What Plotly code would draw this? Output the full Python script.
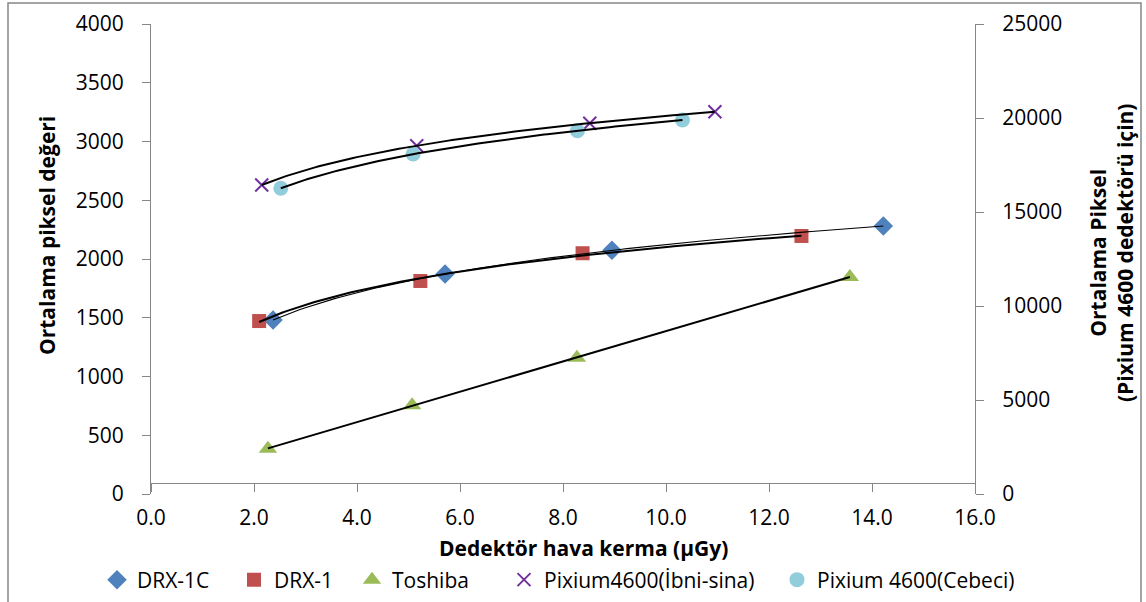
import numpy as np
import plotly.graph_objects as go

# ---- data ----
drx1c_x = [2.37, 5.71, 8.95, 14.22]
drx1c_y = [1481, 1872, 2074, 2281]

drx1_x = [2.10, 5.23, 8.38, 12.63]
drx1_y = [1472, 1813, 2049, 2196]

tosh_x = [2.27, 5.07, 8.27, 13.57]
tosh_y = [386, 755, 1160, 1847]

ibni_x = [2.15, 5.16, 8.52, 10.95]
ibni_y = [16436, 18527, 19718, 20335]

cebeci_x = [2.52, 5.09, 8.28, 10.32]
cebeci_y = [16260, 18085, 19324, 19893]

x_ticks = [0, 2, 4, 6, 8, 10, 12, 14, 16]

FONT = "Open Sans"
AXC = "#868686"

# plot-area geometry in pixels
W, H = 1146, 602
L, R, T, B = 151, 975, 24, 494
pw, ph = R - L, B - T


def px2paper_x(px):
    return (px - L) / pw


def px2paper_y(py):
    return (B - py) / ph


def log_fit(x, y):
    x = np.asarray(x, float)
    a, b = np.polyfit(np.log(x), np.asarray(y, float), 1)
    xs = np.linspace(x.min(), x.max(), 120)
    return xs, a * np.log(xs) + b


def lin_fit(x, y):
    x = np.asarray(x, float)
    a, b = np.polyfit(x, np.asarray(y, float), 1)
    xs = np.linspace(x.min(), x.max(), 2)
    return xs, a * xs + b


fig = go.Figure()

series = [
    ("DRX-1C", drx1c_x, drx1c_y, "y", dict(symbol="diamond", size=15, color="#4F81BD"), "legend"),
    ("DRX-1", drx1_x, drx1_y, "y", dict(symbol="square", size=14, color="#C0504D"), "legend2"),
    ("Toshiba", tosh_x, tosh_y, "y", dict(symbol="triangle-up", size=16, color="#9BBB59"), "legend3"),
    ("Pixium4600(İbni-sina)", ibni_x, ibni_y, "y2",
     dict(symbol="x-thin", size=13, color="#7030A0", line=dict(color="#7030A0", width=2)), "legend4"),
    ("Pixium 4600(Cebeci)", cebeci_x, cebeci_y, "y2", dict(symbol="circle", size=15, color="#92CDDC"), "legend5"),
]

for name, xs, ys, yax, mk, lg in series:
    fig.add_trace(go.Scatter(x=xs, y=ys, mode="markers", name=name, marker=mk,
                             yaxis=yax, legend=lg, cliponaxis=False))

# trendlines
tx, ty = log_fit(drx1c_x, drx1c_y)
fig.add_trace(go.Scatter(x=tx, y=ty, mode="lines", line=dict(color="black", width=1.1),
                         showlegend=False, hoverinfo="skip"))
tx, ty = log_fit(drx1_x, drx1_y)
fig.add_trace(go.Scatter(x=tx, y=ty, mode="lines", line=dict(color="black", width=2),
                         showlegend=False, hoverinfo="skip"))
tx, ty = lin_fit(tosh_x, tosh_y)
fig.add_trace(go.Scatter(x=tx, y=ty, mode="lines", line=dict(color="black", width=2),
                         showlegend=False, hoverinfo="skip"))
tx, ty = log_fit(ibni_x, ibni_y)
fig.add_trace(go.Scatter(x=tx, y=ty, mode="lines", line=dict(color="black", width=2),
                         showlegend=False, hoverinfo="skip", yaxis="y2"))
tx, ty = log_fit(cebeci_x, cebeci_y)
fig.add_trace(go.Scatter(x=tx, y=ty, mode="lines", line=dict(color="black", width=2),
                         showlegend=False, hoverinfo="skip", yaxis="y2"))

tickfont = dict(family=FONT, size=21, color="black")

fig.update_layout(
    width=W, height=H,
    margin=dict(l=L, r=W - R, t=T, b=H - B, pad=0, autoexpand=False),
    paper_bgcolor="white", plot_bgcolor="white",
    font=dict(family=FONT, size=21, color="black"),
    xaxis=dict(range=[0, 16], tickvals=x_ticks, tickformat=".1f", showgrid=False, zeroline=False,
               showline=True, linecolor=AXC, linewidth=1, ticks="outside", ticklen=8, tickcolor=AXC,
               tickfont=tickfont, anchor="free", position=px2paper_y(483), ticklabelstandoff=8,
               automargin=False),
    yaxis=dict(range=[0, 4000], dtick=500, showgrid=False, zeroline=False,
               showline=True, linecolor=AXC, linewidth=1, ticks="outside", ticklen=8, tickcolor=AXC,
               tickfont=tickfont, ticklabelstandoff=14, automargin=False),
    yaxis2=dict(range=[0, 25000], dtick=5000, tickformat="d", overlaying="y", side="right",
                showgrid=False, zeroline=False, showline=True, linecolor=AXC, linewidth=1,
                ticks="outside", ticklen=8, tickcolor=AXC, tickfont=tickfont, ticklabelstandoff=14,
                automargin=False),
)

# legends (one per series to reproduce spacing)
text_starts = [133, 270, 388, 540, 813]
for i, ts in enumerate(text_starts):
    key = "legend" if i == 0 else f"legend{i + 1}"
    fig.update_layout(**{key: dict(x=px2paper_x(ts - 36), y=px2paper_y(580), xanchor="left",
                                   yanchor="middle", orientation="h", bgcolor="rgba(0,0,0,0)",
                                   font=dict(family=FONT, size=21, color="black"),
                                   borderwidth=0, tracegroupgap=0)})

# axis titles
title_font = dict(family=FONT, size=21, color="black")
fig.add_annotation(text="<b>Ortalama piksel değeri</b>", xref="paper", yref="paper",
                   x=px2paper_x(47), y=px2paper_y(236), textangle=-90, showarrow=False,
                   xanchor="center", yanchor="middle", font=title_font)
fig.add_annotation(text="<b>Ortalama Piksel<br>(Pixium 4600 dedektörü için)</b>", xref="paper",
                   yref="paper", x=px2paper_x(1111), y=px2paper_y(253), textangle=-90,
                   showarrow=False, xanchor="center", yanchor="middle", font=title_font)
fig.add_annotation(text="<b>Dedektör hava kerma (µGy)</b>", xref="paper", yref="paper",
                   x=px2paper_x(583), y=px2paper_y(548), showarrow=False,
                   xanchor="center", yanchor="middle", font=title_font)

# outer chart frame
fig.add_shape(type="rect", xref="paper", yref="paper",
              x0=px2paper_x(8), x1=px2paper_x(1141), y0=px2paper_y(612), y1=px2paper_y(3),
              line=dict(color=AXC, width=1.5), fillcolor="rgba(0,0,0,0)", layer="below")

fig.write_html("out.html")
